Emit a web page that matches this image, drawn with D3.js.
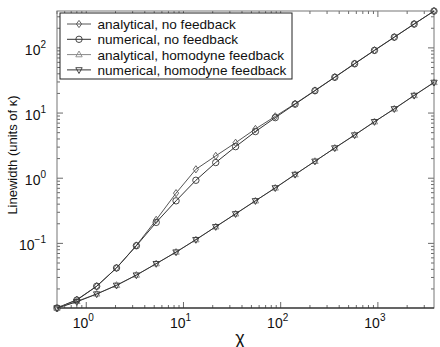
<!DOCTYPE html>
<html>
<head>
<meta charset="utf-8">
<script src="https://cdn.jsdelivr.net/npm/d3@7"></script>
<style>
  body { margin: 0; background: #fff; }
  svg { font-family: "Liberation Sans", Arial, sans-serif; }
</style>
</head>
<body>
<script>
// chi values (x axis)
var chi = [0.5, 0.8, 1.28, 2.048, 3.277, 5.243, 8.389, 13.42, 21.47, 34.36,
           54.98, 87.96, 140.7, 225.2, 360.3, 576.5, 922.3, 1476, 2361, 3778];

// linewidth, units of kappa
var analyticalNoFb = [0.0102, 0.0137, 0.022, 0.042, 0.093, 0.23, 0.59, 1.37, 2.2, 3.5,
                      5.7, 8.9, 13.9, 22.2, 35.6, 57.5, 92, 146, 233, 368];
var numericalNoFb  = [0.0102, 0.0135, 0.022, 0.042, 0.092, 0.21, 0.45, 0.93, 1.74, 3.05,
                      5.2, 8.5, 13.7, 22, 35.4, 57, 91.5, 146, 232, 367];
var analyticalHomo = [0.0102, 0.0129, 0.0168, 0.0228, 0.0327, 0.0489, 0.0736, 0.114, 0.18, 0.284,
                      0.45, 0.71, 1.14, 1.82, 2.91, 4.6, 7.36, 11.6, 18.6, 29.5];
var numericalHomo  = [0.0102, 0.0127, 0.0167, 0.0227, 0.0326, 0.0488, 0.0735, 0.114, 0.18, 0.284,
                      0.45, 0.71, 1.14, 1.82, 2.91, 4.6, 7.36, 11.6, 18.6, 29.5];

var seriesNames = ["analytical, no feedback", "numerical, no feedback",
                   "analytical, homodyne feedback", "numerical, homodyne feedback"];

var xTicks = [1, 10, 100, 1000];
var yTicks = [0.1, 1, 10, 100];

window.onload = function(){
	var w = 440, h = 347;
	var m = {top: 11, right: 6, bottom: 39, left: 57};

	var svg = d3.select("body").append("svg")
		.attr("width", w)
		.attr("height", h);

	var x = d3.scaleLog().domain([0.5, 3778]).range([m.left, w - m.right]);
	var y = d3.scaleLog().domain([0.0102, 368]).range([h - m.bottom, m.top]);

	var series = [
		{name: seriesNames[0], vals: analyticalNoFb, marker: "diamond", color: "#555"},
		{name: seriesNames[1], vals: numericalNoFb, marker: "circle", color: "#333"},
		{name: seriesNames[2], vals: analyticalHomo, marker: "up", color: "#888"},
		{name: seriesNames[3], vals: numericalHomo, marker: "down", color: "#333"}
	];

	// minor tick values
	var xMinor = [], yMinor = [];
	[-1, 0, 1, 2, 3].forEach(function(e){
		for (var k = 2; k < 10; k++){
			var v = k * Math.pow(10, e);
			if (v >= 0.5 && v <= 3778) xMinor.push(v);
		}
	});
	[-2, -1, 0, 1, 2].forEach(function(e){
		for (var k = 2; k < 10; k++){
			var v = k * Math.pow(10, e);
			if (v >= 0.0102 && v <= 368) yMinor.push(v);
		}
	});

	var ticks = svg.append("g").attr("class", "ticks")
		.attr("stroke", "#444").attr("stroke-width", 0.8);
	var x0 = m.left, x1 = w - m.right, y0 = h - m.bottom, y1 = m.top;

	xMinor.forEach(function(v){
		var px = x(v);
		ticks.append("line").attr("x1", px).attr("x2", px).attr("y1", y0).attr("y2", y0 - 3);
		ticks.append("line").attr("x1", px).attr("x2", px).attr("y1", y1).attr("y2", y1 + 3);
	});
	xTicks.forEach(function(v){
		var px = x(v);
		ticks.append("line").attr("x1", px).attr("x2", px).attr("y1", y0).attr("y2", y0 - 6);
		ticks.append("line").attr("x1", px).attr("x2", px).attr("y1", y1).attr("y2", y1 + 6);
	});
	yMinor.forEach(function(v){
		var py = y(v);
		ticks.append("line").attr("x1", x0).attr("x2", x0 + 3).attr("y1", py).attr("y2", py);
		ticks.append("line").attr("x1", x1).attr("x2", x1 - 3).attr("y1", py).attr("y2", py);
	});
	yTicks.forEach(function(v){
		var py = y(v);
		ticks.append("line").attr("x1", x0).attr("x2", x0 + 6).attr("y1", py).attr("y2", py);
		ticks.append("line").attr("x1", x1).attr("x2", x1 - 6).attr("y1", py).attr("y2", py);
	});

	// frame
	svg.append("rect")
		.attr("x", x0).attr("y", y1)
		.attr("width", x1 - x0).attr("height", y0 - y1)
		.attr("fill", "none").attr("stroke", "#777").attr("stroke-width", 1);
	svg.append("line")
		.attr("x1", x0).attr("x2", x1).attr("y1", y0).attr("y2", y0)
		.attr("stroke", "#111").attr("stroke-width", 1.2);

	// tick labels
	xTicks.forEach(function(v){
		var e = Math.round(Math.log10(v));
		var t = svg.append("text")
			.attr("x", x(v) - 3).attr("y", y0 + 20)
			.attr("text-anchor", "middle")
			.attr("font-size", 14).attr("fill", "#111");
		t.append("tspan").text("10");
		t.append("tspan").attr("dy", -7).attr("font-size", 10).text(e);
	});
	yTicks.forEach(function(v){
		var e = Math.round(Math.log10(v));
		var t = svg.append("text")
			.attr("x", x0 - 11).attr("y", y(v) + 7)
			.attr("text-anchor", "end")
			.attr("font-size", 14).attr("fill", "#111");
		t.append("tspan").text("10");
		t.append("tspan").attr("dy", -7).attr("font-size", 10).text(e < 0 ? "\u2212" + (-e) : e);
	});

	// axis titles
	svg.append("text")
		.attr("x", 240).attr("y", 344)
		.attr("text-anchor", "middle")
		.attr("font-size", 18).attr("fill", "#111")
		.text("\u03c7");
	svg.append("text")
		.attr("transform", "translate(17,155) rotate(-90)")
		.attr("text-anchor", "middle")
		.attr("font-size", 13).attr("fill", "#111")
		.text("Linewidth (units of \u03ba)");

	function drawMarker(g, type, cx, cy, color){
		var p;
		if (type === "circle"){
			g.append("circle").attr("cx", cx).attr("cy", cy).attr("r", 3.2)
				.attr("fill", "none").attr("stroke", color).attr("stroke-width", 0.9);
			return;
		}
		if (type === "diamond") p = [[0, -3.6], [2.6, 0], [0, 3.6], [-2.6, 0]];
		if (type === "up") p = [[0, -3.6], [3.2, 2.2], [-3.2, 2.2]];
		if (type === "down") p = [[0, 3.6], [3.2, -2.2], [-3.2, -2.2]];
		g.append("path")
			.attr("d", "M" + p.map(function(q){ return (cx + q[0]) + "," + (cy + q[1]); }).join("L") + "Z")
			.attr("fill", "none").attr("stroke", color).attr("stroke-width", 0.9);
	}

	var line = d3.line()
		.x(function(d){ return x(d[0]); })
		.y(function(d){ return y(d[1]); });

	series.forEach(function(s){
		var pts = chi.map(function(c, i){ return [c, s.vals[i]]; });
		var g = svg.append("g").attr("class", "series");
		g.append("path").datum(pts)
			.attr("d", line)
			.attr("fill", "none").attr("stroke", s.color).attr("stroke-width", 1);
		pts.forEach(function(d){
			drawMarker(g, s.marker, x(d[0]), y(d[1]), s.color);
		});
	});

	// legend
	var lg = svg.append("g").attr("class", "legend");
	lg.append("rect")
		.attr("x", 60).attr("y", 13).attr("width", 232).attr("height", 66)
		.attr("fill", "#fff").attr("stroke", "#222").attr("stroke-width", 1);
	series.forEach(function(s, i){
		var ly = 24 + i * 15.3;
		lg.append("line").attr("x1", 67).attr("x2", 91).attr("y1", ly).attr("y2", ly)
			.attr("stroke", s.color).attr("stroke-width", 1);
		drawMarker(lg, s.marker, 79, ly, s.color);
		lg.append("text")
			.attr("x", 97.5).attr("y", ly + 5)
			.attr("font-size", 13.6).attr("fill", "#111")
			.text(s.name);
	});
};
</script>
</body>
</html>
